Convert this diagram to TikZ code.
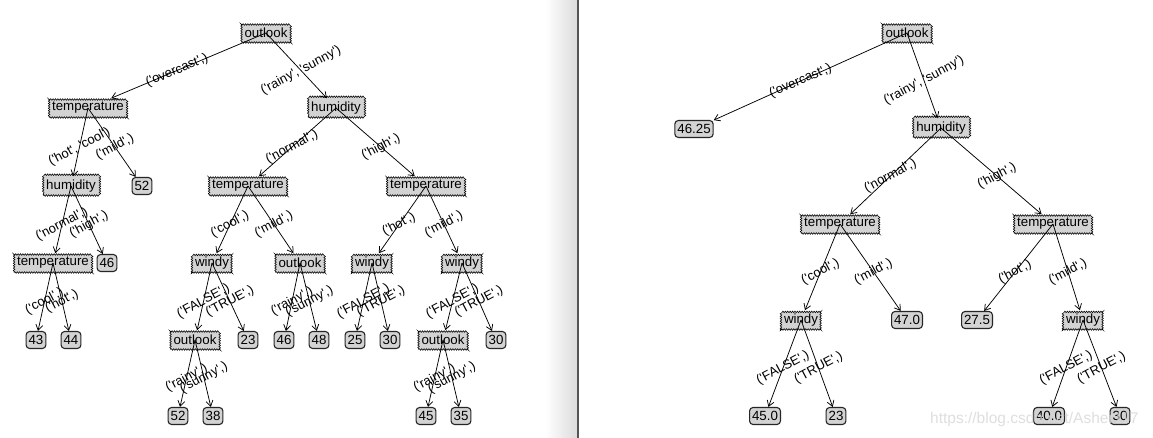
\documentclass[tikz,border=0pt]{standalone}
\usepackage{fontspec}
\newfontfamily\nf{Liberation Sans}
\usetikzlibrary{arrows.meta,decorations.pathmorphing,calc}
\definecolor{nodefill}{HTML}{D3D3D3}
\definecolor{sepline}{HTML}{555555}
\newcommand{\lnk}[4][28]{%
  \draw[conn] (#2.center) -- (#3);
  \path (#2.center) -- node[lbl,rotate=#1]{#4} (#3.center);}
\begin{document}
\begin{tikzpicture}[x=1pt,y=-1pt,
  decnode/.style={rectangle, draw=black, line width=0.55pt, fill=nodefill,
    decorate, decoration={snake, segment length=2.4pt, amplitude=0.8pt},
    inner xsep=3pt, inner ysep=0pt, minimum height=19pt, font=\nf\fontsize{13.3}{15}\selectfont},
  leafnode/.style={rectangle, rounded corners=3.5pt, draw=black!85, line width=1.1pt,
    fill=nodefill, inner xsep=2.5pt, inner ysep=0pt, minimum height=17pt,
    font=\nf\fontsize{13.3}{15}\selectfont},
  conn/.style={draw=black, line width=0.75pt, -{Straight Barb[length=5.5pt,width=7pt]}},
  lbl/.style={font=\nf\fontsize{13}{15}\selectfont, inner sep=0pt}]
\useasboundingbox (0,0) rectangle (1153,438);
\fill[white] (0,0) rectangle (1153,438);
% separator
\shade[left color=white, right color=black!14] (545,0) rectangle (577.5,438);
\draw[sepline, line width=1.2pt] (578,0) -- (578,438);

% ---------------- left tree ----------------
\node[decnode] (r) at (266,33) {outlook};
\node[decnode] (t1) at (88,108) {temperature};
\node[decnode] (h1) at (336,108) {humidity};
\node[decnode] (h2) at (71,186) {humidity};
\node[leafnode] (l52a) at (142,186) {52};
\node[decnode] (t2) at (248,186) {temperature};
\node[decnode] (t3) at (426,186) {temperature};
\node[decnode] (t4) at (53,263) {temperature};
\node[leafnode] (l46a) at (107,263) {46};
\node[decnode] (w1) at (212,263) {windy};
\node[decnode] (o1) at (300,263) {outlook};
\node[decnode] (w2) at (372,263) {windy};
\node[decnode] (w3) at (462,263) {windy};
\node[leafnode] (l43) at (36,340) {43};
\node[leafnode] (l44) at (71,340) {44};
\node[decnode] (o2) at (195,340) {outlook};
\node[leafnode] (l23a) at (248,340) {23};
\node[leafnode] (l46b) at (284,340) {46};
\node[leafnode] (l48) at (319,340) {48};
\node[leafnode] (l25) at (355,340) {25};
\node[leafnode] (l30a) at (390,340) {30};
\node[decnode] (o3) at (443,340) {outlook};
\node[leafnode] (l30b) at (496,340) {30};
\node[leafnode] (l52b) at (178,416) {52};
\node[leafnode] (l38) at (213,416) {38};
\node[leafnode] (l45) at (426,416) {45};
\node[leafnode] (l35) at (461,416) {35};

\lnk[23]{r}{t1}{('overcast',)}
\lnk{r}{h1}{('rainy', 'sunny')}
\lnk{t1}{h2}{('hot', 'cool')}
\lnk{t1}{l52a}{('mild',)}
\lnk{h2}{t4}{('normal',)}
\lnk{h2}{l46a}{('high',)}
\lnk{t4}{l43}{('cool',)}
\lnk{t4}{l44}{('hot',)}
\lnk{h1}{t2}{('normal',)}
\lnk{h1}{t3}{('high',)}
\lnk{t2}{w1}{('cool',)}
\lnk{t2}{o1}{('mild',)}
\lnk{t3}{w2}{('hot',)}
\lnk{t3}{w3}{('mild',)}
\lnk{w1}{o2}{('FALSE',)}
\lnk{w1}{l23a}{('TRUE',)}
\lnk{o1}{l46b}{('rainy',)}
\lnk{o1}{l48}{('sunny',)}
\lnk{w2}{l25}{('FALSE',)}
\lnk{w2}{l30a}{('TRUE',)}
\lnk{w3}{o3}{('FALSE',)}
\lnk{w3}{l30b}{('TRUE',)}
\lnk{o2}{l52b}{('rainy',)}
\lnk{o2}{l38}{('sunny',)}
\lnk{o3}{l45}{('rainy',)}
\lnk{o3}{l35}{('sunny',)}

% ---------------- right tree ----------------
\node[decnode] (R) at (907,33) {outlook};
\node[leafnode] (L1) at (694,129) {46.25};
\node[decnode] (H) at (941,128) {humidity};
\node[decnode] (T1) at (840,224) {temperature};
\node[decnode] (T2) at (1053,224) {temperature};
\node[decnode] (W1) at (801,320) {windy};
\node[leafnode] (L47) at (907,320) {47.0};
\node[leafnode] (L275) at (977,320) {27.5};
\node[decnode] (W2) at (1083,320) {windy};
\node[leafnode] (L450) at (765,416) {45.0};
\node[leafnode] (L23) at (836,416) {23};
\node[leafnode] (L400) at (1049,416) {40.0};
\node[leafnode] (L30) at (1120,416) {30};

\lnk[23]{R}{L1}{('overcast',)}
\lnk{R}{H}{('rainy', 'sunny')}
\lnk{H}{T1}{('normal',)}
\lnk{H}{T2}{('high',)}
\lnk{T1}{W1}{('cool',)}
\lnk{T1}{L47}{('mild',)}
\lnk{T2}{L275}{('hot',)}
\lnk{T2}{W2}{('mild',)}
\lnk{W1}{L450}{('FALSE',)}
\lnk{W1}{L23}{('TRUE',)}
\lnk{W2}{L400}{('FALSE',)}
\lnk{W2}{L30}{('TRUE',)}

% watermark
\node[anchor=west, inner sep=0pt, font=\nf\fontsize{15.5}{17}\selectfont, text=black!15, text opacity=0.85] (wm) at (930,419) {https://blog.csdn.net/Asher117};
\end{tikzpicture}
\end{document}
